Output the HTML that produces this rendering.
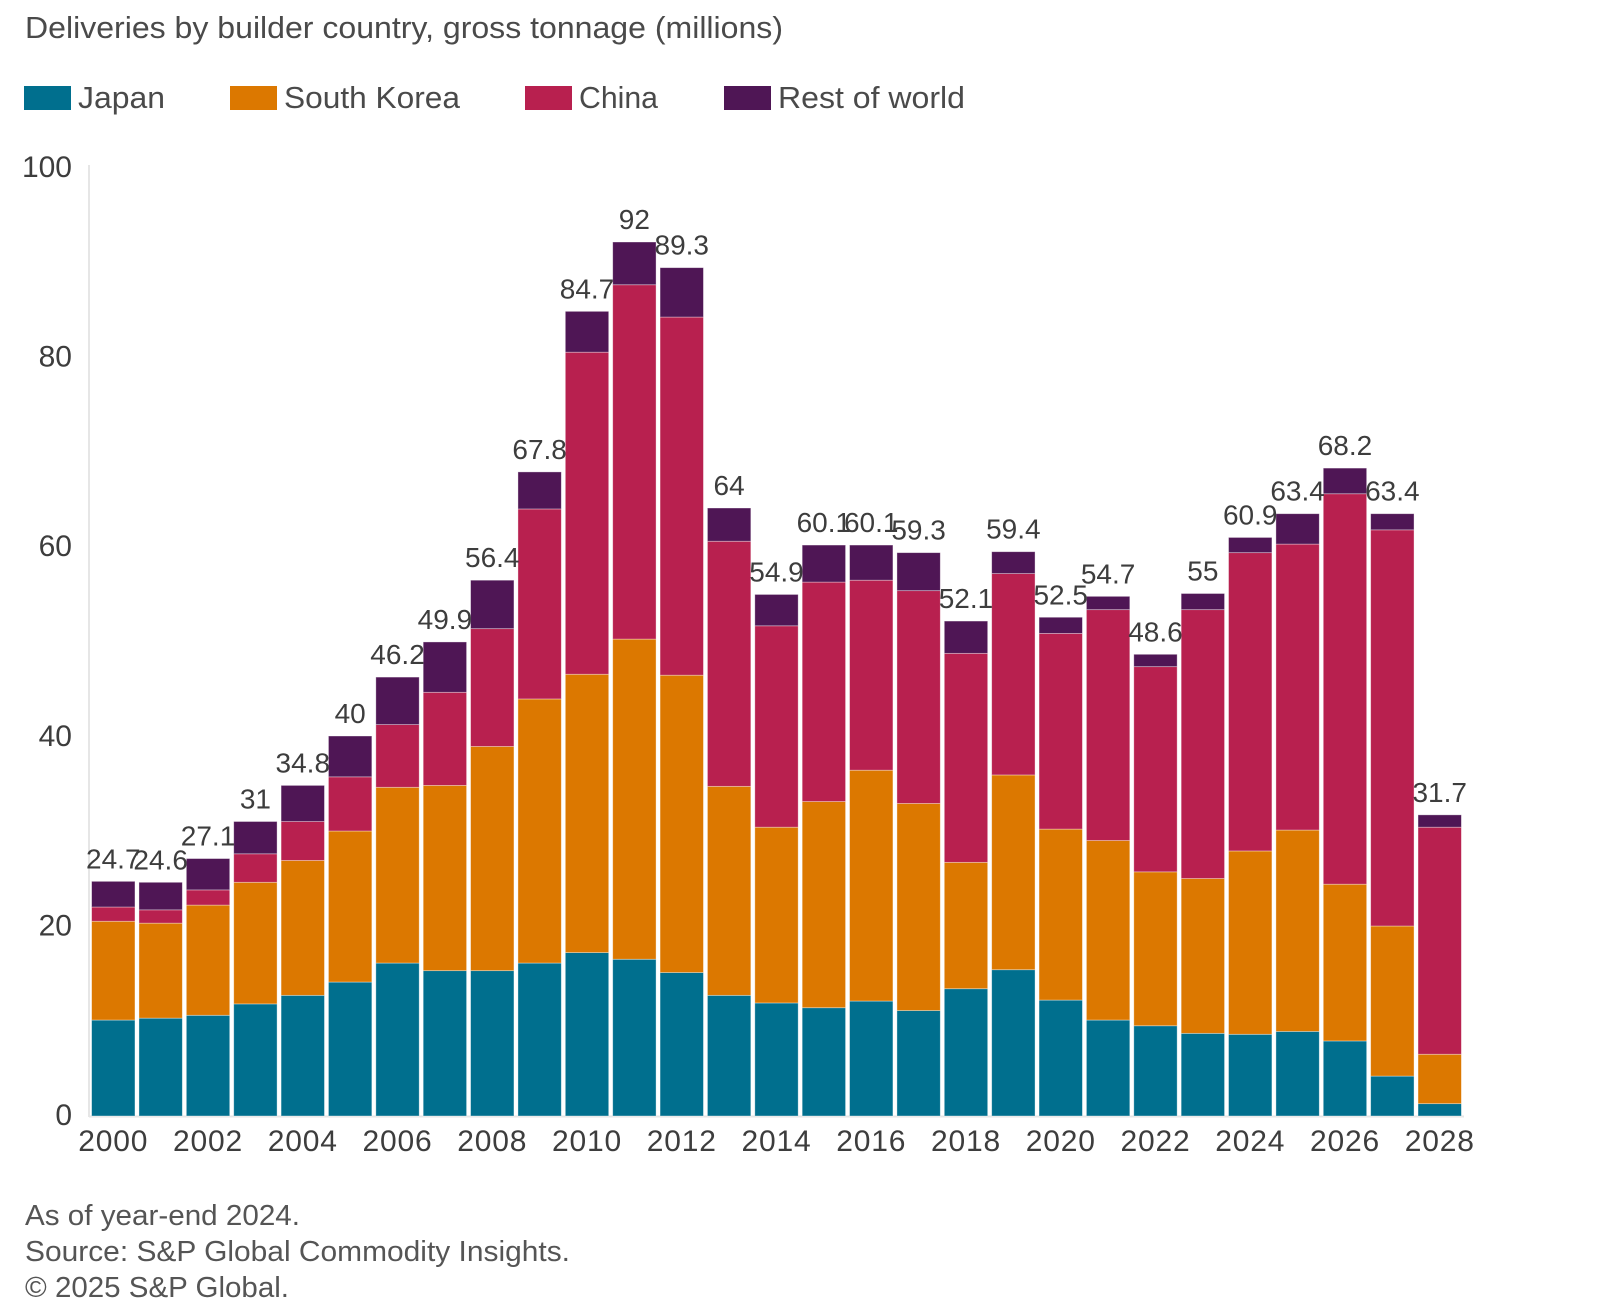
<!DOCTYPE html>
<html lang="en">
<head>
<meta charset="utf-8">
<title>Deliveries by builder country</title>
<style>
html,body{margin:0;padding:0;background:#fff;width:1600px;height:1300px;overflow:hidden}
svg{display:block}
text{font-family:"Liberation Sans",sans-serif;fill:#3d3d3d}
</style>
</head>
<body>
<svg id="chart" width="1600" height="1300" viewBox="0 0 1600 1300" xmlns="http://www.w3.org/2000/svg">
  <text x="25" y="38" font-size="31" textLength="758" lengthAdjust="spacingAndGlyphs" style="fill:#4a4a4a">Deliveries by builder country, gross tonnage (millions)</text>
  <g>
    <g>
      <rect x="24" y="86" width="47" height="24" fill="#006f8e"/>
      <text x="78" y="108" font-size="31" textLength="87" lengthAdjust="spacingAndGlyphs" style="fill:#4a4a4a">Japan</text>
    </g>
    <g>
      <rect x="230" y="86" width="47" height="24" fill="#dc7800"/>
      <text x="284" y="108" font-size="31" textLength="176" lengthAdjust="spacingAndGlyphs" style="fill:#4a4a4a">South Korea</text>
    </g>
    <g>
      <rect x="525" y="86" width="47" height="24" fill="#b8204f"/>
      <text x="579" y="108" font-size="31" textLength="79" lengthAdjust="spacingAndGlyphs" style="fill:#4a4a4a">China</text>
    </g>
    <g>
      <rect x="724" y="86" width="47" height="24" fill="#4f1655"/>
      <text x="778" y="108" font-size="31" textLength="187" lengthAdjust="spacingAndGlyphs" style="fill:#4a4a4a">Rest of world</text>
    </g>
  </g>
  <g id="plot"></g>
  <g>
    <text x="25" y="1225" font-size="29" textLength="275" lengthAdjust="spacingAndGlyphs" style="fill:#555">As of year-end 2024.</text>
    <text x="25" y="1261" font-size="29" textLength="545" lengthAdjust="spacingAndGlyphs" style="fill:#555">Source: S&amp;P Global Commodity Insights.</text>
    <text x="25" y="1297" font-size="29" textLength="264" lengthAdjust="spacingAndGlyphs" style="fill:#555">© 2025 S&amp;P Global.</text>
  </g>
</svg>
<script>
const years = [2000,2001,2002,2003,2004,2005,2006,2007,2008,2009,2010,2011,2012,2013,2014,2015,2016,2017,2018,2019,2020,2021,2022,2023,2024,2025,2026,2027,2028];
const japan = [10.1,10.3,10.6,11.8,12.7,14.1,16.1,15.3,15.3,16.1,17.2,16.5,15.1,12.7,11.9,11.4,12.1,11.1,13.4,15.4,12.2,10.1,9.5,8.7,8.6,8.9,7.9,4.2,1.3];
const southKorea = [10.4,10,11.6,12.8,14.2,15.9,18.5,19.5,23.6,27.8,29.3,33.7,31.3,22,18.5,21.7,24.3,21.8,13.3,20.5,18,18.9,16.2,16.3,19.3,21.2,16.5,15.8,5.2];
const china = [1.5,1.4,1.6,3,4.1,5.7,6.6,9.8,12.4,20,33.9,37.3,37.7,25.8,21.2,23.1,20,22.4,22,21.2,20.6,24.3,21.6,28.3,31.4,30.1,41.1,41.7,23.9];
const restOfWorld = [2.7,2.9,3.3,3.4,3.8,4.3,5,5.3,5.1,3.9,4.3,4.5,5.2,3.5,3.3,3.9,3.7,4,3.4,2.3,1.7,1.4,1.3,1.7,1.6,3.2,2.7,1.7,1.3];
const totalLabels = ["24.7","24.6","27.1","31","34.8","40","46.2","49.9","56.4","67.8","84.7","92","89.3","64","54.9","60.1","60.1","59.3","52.1","59.4","52.5","54.7","48.6","55","60.9","63.4","68.2","63.4","31.7"];
const yTicks = [0,20,40,60,80,100];
const xTicks = [2000,2002,2004,2006,2008,2010,2012,2014,2016,2018,2020,2022,2024,2026,2028];

const NS = 'http://www.w3.org/2000/svg';
const plot = document.getElementById('plot');
const yMax = 100;
const plotTop = 166, axisTop = 165, plotBottom = 1116, plotLeft = 89, plotRight = 1464;
const firstBar = 91.6, lastBarEnd = 1461.4, gap = 4;
const step = (lastBarEnd - firstBar + gap) / years.length;
const barWidth = step - gap;

function yScale(v) { return plotBottom - (v / yMax) * (plotBottom - plotTop); }
function xBand(year) { return firstBar + years.indexOf(year) * step; }
function xCenter(year) { return xBand(year) + barWidth / 2; }

function make(tag, attrs, text) {
  const el = document.createElementNS(NS, tag);
  for (const k in attrs) el.setAttribute(k, attrs[k]);
  if (text !== undefined) el.textContent = text;
  return el;
}

const yAxisLine = make('line', {x1: plotLeft, x2: plotLeft, y1: axisTop, y2: plotBottom + 1, stroke: '#e6e6e6', 'stroke-width': 2});


plot.appendChild(yAxisLine);

const xAxisLine = make('line', {x1: plotLeft, x2: plotRight, y1: plotBottom + 0.5, y2: plotBottom + 0.5, stroke: '#e6e6e6', 'stroke-width': 2});


plot.appendChild(xAxisLine);

yTicks.forEach(function (t) {
  const label = make('text', {x: 72, y: yScale(t) + 9 + t * 0.02, 'font-size': 30, 'text-anchor': 'end'}, String(t));
  
  
  plot.appendChild(label);
});

xTicks.forEach(function (t) {
  const label = make('text', {x: xCenter(t), y: 1151, 'font-size': 30, 'text-anchor': 'middle', 'letter-spacing': '0.8'}, String(t));
  
  
  plot.appendChild(label);
});

const seriesList = [
  {key: 'japan', values: japan, color: '#006f8e'},
  {key: 'south-korea', values: southKorea, color: '#dc7800'},
  {key: 'china', values: china, color: '#b8204f'},
  {key: 'rest-of-world', values: restOfWorld, color: '#4f1655'}
];

const tops = [];
years.forEach(function (year, i) {
  let cum = 0;
  seriesList.forEach(function (s) {
    const v = s.values[i];
    const rect = make('rect', {
      x: xBand(year),
      y: yScale(cum + v),
      width: barWidth,
      height: yScale(cum) - yScale(cum + v),
      fill: s.color,
      stroke: '#ffffff',
      'stroke-opacity': 0.45,
      'stroke-width': 0.8
    });
    
    
    plot.appendChild(rect);
    cum += v;
  });
  tops.push(cum);
});

years.forEach(function (year, i) {
  const label = make('text', {x: xCenter(year), y: yScale(tops[i]) - 13, 'font-size': 28, 'text-anchor': 'middle'}, totalLabels[i]);
  
  
  plot.appendChild(label);
});
</script>
</body>
</html>
